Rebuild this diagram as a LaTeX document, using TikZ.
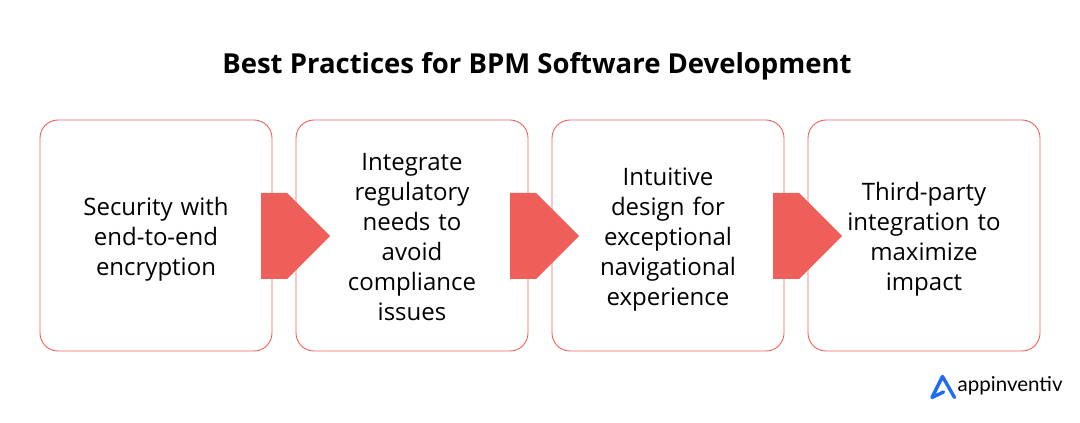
\documentclass[tikz,border=0pt]{standalone}
\usepackage{fontspec}
\setmainfont{Open Sans}
\newfontfamily\logofont{Lato}
\usepackage{xcolor}
\usetikzlibrary{shapes.symbols}
\definecolor{boxline}{HTML}{EF5F5A}
\definecolor{logoblue}{HTML}{1F6BF2}
\tikzstyle{stepbox} = [rectangle, rounded corners=18pt, minimum width=232pt, minimum height=231pt, text width=190pt, align=center, draw=boxline, line width=0.9pt, font=\fontsize{24}{30}\selectfont, execute at begin node={\rule{0pt}{27pt}}, execute at end node={\rule[-6pt]{0pt}{6pt}}]
\tikzstyle{pointer} = [signal, signal to=east, signal pointer angle=90, minimum width=69pt, minimum height=86pt, inner sep=0pt, fill=boxline, yshift=-0.5pt]

\begin{document}
\begin{tikzpicture}[x=1pt, y=1pt, node distance=256pt]
            \useasboundingbox (0,0) rectangle (1080,423);
            \node (title) at (537,357) {\fontsize{27.5}{32}\selectfont\bfseries Best Practices for BPM Software Development};

            \node (box1) [stepbox] at (156,187.5) {Security with\\end-to-end\\encryption};
            \node (box2) [stepbox, right of=box1] {Integrate\\regulatory\\needs to\\avoid\\compliance\\issues};
            \node (box3) [stepbox, right of=box2] {Intuitive\\design for\\exceptional\\navigational\\experience};
            \node (box4) [stepbox, right of=box3] {Third-party\\integration to\\maximize\\impact};

            \node (arrow1) [pointer, right of=box1, xshift=-151pt, anchor=west] {};
            \node (arrow2) [pointer, right of=box2, xshift=-158pt, anchor=west] {};
            \node (arrow3) [pointer, right of=box3, xshift=-151pt, anchor=west] {};

            % logo
            \coordinate (apex) at (942.5,46.5);
            \coordinate (footl) at (932,25.5);
            \coordinate (footr) at (954.5,25.5);
            \coordinate (notch) at (943.5,31);
            \draw [logoblue, line width=3.4pt, line join=round, line cap=round] (notch) -- (footl) -- (apex) -- (footr);
            \node (logotext) [anchor=base west, inner sep=0pt] at (957.5,31) {\fontsize{20.5}{22}\logofont appinventiv};
        \end{tikzpicture}
\end{document}
